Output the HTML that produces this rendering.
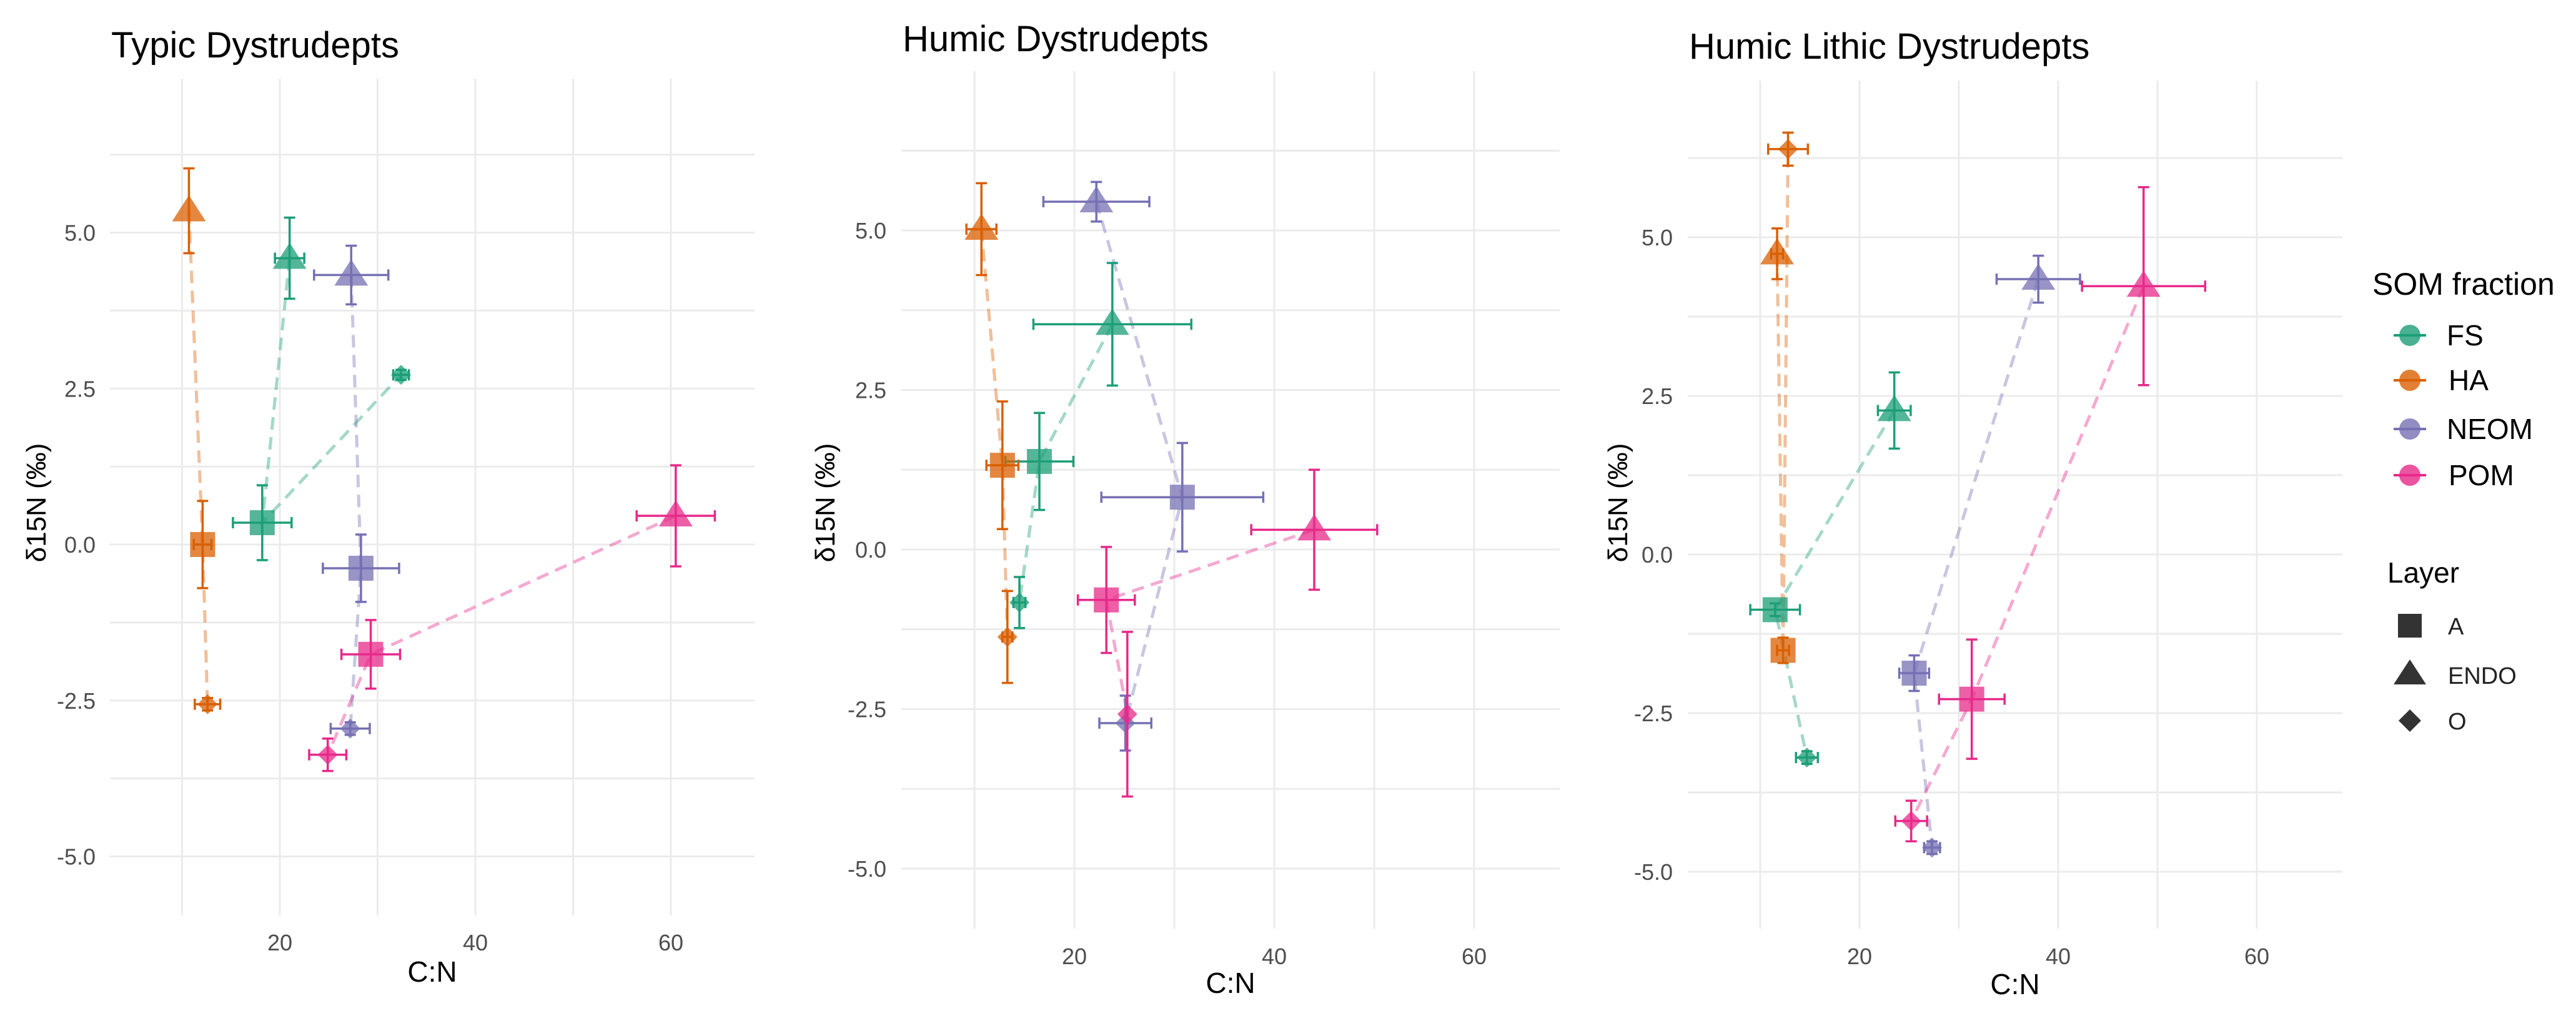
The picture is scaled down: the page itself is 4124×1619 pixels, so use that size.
<!DOCTYPE html>
<html><head><meta charset="utf-8"><style>
html,body{margin:0;padding:0;background:#fff;}
svg{display:block;font-family:"Liberation Sans",sans-serif;}
</style></head><body>
<svg id="chart" width="4124" height="1619" viewBox="0 0 4124 1619" xmlns="http://www.w3.org/2000/svg">
<rect x="0" y="0" width="4124" height="1619" fill="#fff"/>
<g id="legend">
<text x="3798" y="472" font-size="50" fill="#000">SOM fraction</text>
<g><line x1="3832" x2="3884" y1="537" y2="537" stroke="#1b9e77" stroke-width="4"/><circle cx="3858" cy="537" r="17" fill="#1b9e77" fill-opacity="0.8"/><text x="3917" y="553" font-size="46">FS</text></g>
<g><line x1="3832" x2="3884" y1="609" y2="609" stroke="#d95f02" stroke-width="4"/><circle cx="3858" cy="609" r="17" fill="#d95f02" fill-opacity="0.8"/><text x="3920" y="625" font-size="46">HA</text></g>
<g><line x1="3832" x2="3884" y1="687" y2="687" stroke="#7570b3" stroke-width="4"/><circle cx="3858" cy="687" r="17" fill="#7570b3" fill-opacity="0.8"/><text x="3917" y="703" font-size="46">NEOM</text></g>
<g><line x1="3832" x2="3884" y1="761" y2="761" stroke="#e7298a" stroke-width="4"/><circle cx="3858" cy="761" r="17" fill="#e7298a" fill-opacity="0.8"/><text x="3920" y="777" font-size="46">POM</text></g>
<text x="3822" y="933" font-size="46" fill="#000">Layer</text>
<g><rect x="3839" y="983" width="38" height="38" fill="#333"/><text x="3919" y="1016" font-size="38" fill="#222">A</text></g>
<g><polygon points="3858,1056 3884,1096 3832,1096" fill="#333"/><text x="3919" y="1095" font-size="38" fill="#222">ENDO</text></g>
<g><polygon points="3858,1136 3876,1154 3858,1172 3840,1154" fill="#333"/><text x="3919" y="1168" font-size="38" fill="#222">O</text></g>
</g>
</svg>
<script>
const fractions = ["FS","HA","NEOM","POM"];
const layers = ["ENDO","A","O"];
const colors = {FS:"#1b9e77",HA:"#d95f02",NEOM:"#7570b3",POM:"#e7298a"};
const panelTitles = ["Typic Dystrudepts","Humic Dystrudepts","Humic Lithic Dystrudepts"];
const xTicks = [20,40,60];
const yTicks = [-5,-2.5,0,2.5,5];
const yTickLabels = ["-5.0","-2.5","0.0","2.5","5.0"];
// per panel: rows = fractions (FS,HA,NEOM,POM), cols = layers (ENDO,A,O)
const p1X = [[21.0,18.2,32.4],[10.7,12.1,12.6],[27.3,28.3,27.2],[60.5,29.3,24.9]];
const p1Y = [[4.59,0.35,2.72],[5.35,0.0,-2.56],[4.32,-0.38,-2.95],[0.46,-1.76,-3.37]];
const p1XE = [[1.5,3.0,0.8],[0,0.9,1.3],[3.8,3.9,2.0],[4.0,3.0,1.9]];
const p1YE = [[0.65,0.6,0.08],[0.68,0.7,0.1],[0.47,0.54,0.1],[0.81,0.55,0.26]];
const p2X = [[23.8,16.5,14.5],[10.7,12.8,13.3],[22.2,30.8,25.1],[44.0,23.2,25.3]];
const p2Y = [[3.53,1.38,-0.83],[5.02,1.32,-1.37],[5.45,0.82,-2.72],[0.31,-0.79,-2.58]];
const p2XE = [[7.9,3.4,0.6],[1.5,1.6,0.5],[5.3,8.1,2.6],[6.3,2.85,0]];
const p2YE = [[0.96,0.76,0.4],[0.72,1.0,0.72],[0.31,0.85,0.43],[0.94,0.83,1.29]];
const p3X = [[23.5,11.5,14.7],[11.7,12.3,12.8],[38.0,25.5,27.3],[48.6,31.3,25.2]];
const p3Y = [[2.27,-0.87,-3.2],[4.74,-1.51,6.39],[4.34,-1.87,-4.62],[4.23,-2.28,-4.2]];
const p3XE = [[1.65,2.5,1.1],[0.6,0.6,2.0],[4.2,1.5,0.8],[6.2,3.3,1.6]];
const p3YE = [[0.6,0.1,0.1],[0.4,0.2,0.26],[0.37,0.28,0.1],[1.56,0.94,0.32]];

const panels = [
 {xs:p1X,ys:p1Y,xe:p1XE,ye:p1YE,px0:176,px1:1208,py0:126,py1:1466,x20:448,xu:15.65,y0:872,yu:99.9,tickR:153,xLabY:1522,cnY:1572,yTitleX:58,titleX:178,titleY:92},
 {xs:p2X,ys:p2Y,xe:p2XE,ye:p2YE,px0:1443,px1:2497,py0:114,py1:1487,x20:1720,xu:16.0,y0:880,yu:102.2,tickR:1419,xLabY:1544,cnY:1590,yTitleX:1321,titleX:1445,titleY:82},
 {xs:p3X,ys:p3Y,xe:p3XE,ye:p3YE,px0:2702,px1:3750,py0:129,py1:1487,x20:2977,xu:15.9,y0:888,yu:101.6,tickR:2678,xLabY:1544,cnY:1592,yTitleX:2590,titleX:2704,titleY:94}
];
const NS="http://www.w3.org/2000/svg";
const svg=document.getElementById('chart');
const legend=document.getElementById('legend');
function mk(tag,attrs,parent){const e=document.createElementNS(NS,tag);for(const k in attrs)e.setAttribute(k,attrs[k]);(parent||svg).appendChild(e);return e;}
panels.forEach((P,pi)=>{
 const sx=v=>P.x20+(v-20)*P.xu;
 const sy=v=>P.y0-v*P.yu;
 const g=mk('g',{});
 
 
 svg.insertBefore(g,legend);
 for(let v=-5;v<=6.26;v+=1.25){const l=mk('line',{x1:P.px0,x2:P.px1,y1:sy(v),y2:sy(v),stroke:'#ebebeb','stroke-width':3},g);
  
  }
 for(let v=10;v<=60;v+=10){const l=mk('line',{x1:sx(v),x2:sx(v),y1:P.py0,y2:P.py1,stroke:'#ebebeb','stroke-width':3},g);
  
  }
 yTicks.forEach((v,i)=>{const t=mk('text',{x:P.tickR,y:sy(v)+13,'text-anchor':'end','font-size':36,fill:'#4d4d4d'},g);t.textContent=yTickLabels[i];
  
  });
 xTicks.forEach(v=>{const t=mk('text',{x:sx(v),y:P.xLabY,'text-anchor':'middle','font-size':36,fill:'#4d4d4d'},g);t.textContent=v;
  
  });
 const xt=mk('text',{x:(P.px0+P.px1)/2,y:P.cnY,'text-anchor':'middle','font-size':46,fill:'#000'},g);xt.textContent='C:N';
 
 
 const yt=mk('text',{x:0,y:0,'text-anchor':'middle','font-size':44,fill:'#000',transform:`translate(${P.yTitleX+15},805) rotate(-90)`},g);yt.textContent='δ15N (‰)';
 
 
 const tt=mk('text',{x:P.titleX,y:P.titleY,'font-size':58,fill:'#000'},g);tt.textContent=panelTitles[pi];
 
 
 fractions.forEach((f,fi)=>{
  const c=colors[f];
  const pts=layers.map((l,li)=>sx(P.xs[fi][li])+','+sy(P.ys[fi][li])).join(' ');
  const pl=mk('polyline',{points:pts,fill:'none',stroke:c,'stroke-opacity':0.4,'stroke-width':5,'stroke-dasharray':'20 12'},g);
  
  
 });
 fractions.forEach((f,fi)=>{
  const c=colors[f];
  layers.forEach((l,li)=>{
   const x=P.xs[fi][li],y=P.ys[fi][li],xe=P.xe[fi][li],ye=P.ye[fi][li];
   const cx=sx(x),cy=sy(y);
   const pg=mk('g',{},g);
   
   
   if(l==='A') mk('rect',{x:cx-20,y:cy-20,width:40,height:40,fill:c,'fill-opacity':0.75},pg);
   else if(l==='ENDO') mk('polygon',{points:`${cx},${cy-25} ${cx+27},${cy+17} ${cx-27},${cy+17}`,fill:c,'fill-opacity':0.75},pg);
   else mk('polygon',{points:`${cx},${cy-16} ${cx+16},${cy} ${cx},${cy+16} ${cx-16},${cy}`,fill:c,'fill-opacity':0.75},pg);
   const a={stroke:c,'stroke-width':3.5};
   mk('line',Object.assign({x1:cx,x2:cx,y1:sy(y+ye),y2:sy(y-ye)},a),pg);
   mk('line',Object.assign({x1:cx-9,x2:cx+9,y1:sy(y+ye),y2:sy(y+ye)},a),pg);
   mk('line',Object.assign({x1:cx-9,x2:cx+9,y1:sy(y-ye),y2:sy(y-ye)},a),pg);
   mk('line',Object.assign({x1:sx(x-xe),x2:sx(x+xe),y1:cy,y2:cy},a),pg);
   mk('line',Object.assign({x1:sx(x-xe),x2:sx(x-xe),y1:cy-9,y2:cy+9},a),pg);
   mk('line',Object.assign({x1:sx(x+xe),x2:sx(x+xe),y1:cy-9,y2:cy+9},a),pg);
  });
 });
});
</script>
</body></html>
